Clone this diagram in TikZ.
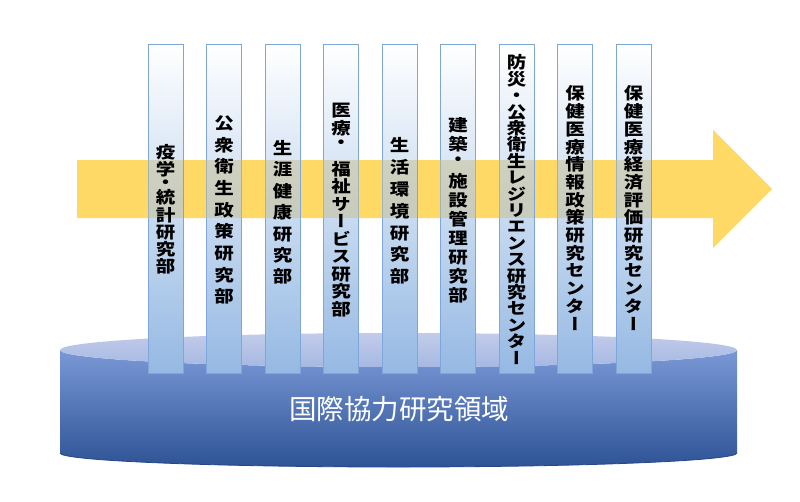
\documentclass[tikz,border=0pt]{standalone}
\usepackage{fontspec}
\newfontfamily\jplabel{Noto Sans CJK JP}[RawFeature=+vert, FakeStretch=1.18]
\newfontfamily\jpbase{Noto Sans CJK JP}
\definecolor{arrowfill}{RGB}{255,217,102}
\definecolor{tintfill}{RGB}{200,190,140}
\definecolor{pilltop}{RGB}{255,255,255}
\definecolor{pillmid}{RGB}{172,198,233}
\definecolor{pillbot}{RGB}{149,185,227}
\definecolor{pillline}{RGB}{126,166,218}
\definecolor{cylA}{RGB}{122,152,214}
\definecolor{cylB}{RGB}{68,114,196}
\definecolor{cylC}{RGB}{46,83,149}
\definecolor{capA}{RGB}{194,204,234}
\definecolor{capB}{RGB}{166,184,226}
\definecolor{cylline}{RGB}{38,70,135}
\tikzset{
  pillar/.style={draw=pillline, line width=0.9pt, minimum width=35pt, minimum height=329pt,
    inner sep=0pt, top color=pilltop, middle color=pillmid, bottom color=pillbot},
  lbl/.style={align=center, inner sep=0pt, text=black},
  tint/.style={fill=tintfill, fill opacity=0.5},
}
\newcommand{\lblfont}[1]{\jplabel\bfseries\fontsize{16.5}{#1}\selectfont}
\begin{document}
\begin{tikzpicture}[x=1pt,y=-1pt]
\useasboundingbox (0,0) rectangle (800,501);
\coordinate (atop) at (0,160);
\coordinate (abot) at (0,218);
% arrow
\fill[arrowfill] (77,160) -- (713,160) -- (713,130) -- (772,189) -- (713,248) -- (713,218) -- (77,218) -- cycle;
% cylinder
\shade[top color=cylA, middle color=cylB, bottom color=cylC]
  (60,350) -- (60,453) arc[start angle=180, end angle=0, x radius=338.5, y radius=14]
  -- (737,350) arc[start angle=0, end angle=180, x radius=338.5, y radius=17] -- cycle;
\draw[cylline, line width=0.8pt] (60,453) arc[start angle=180, end angle=0, x radius=338.5, y radius=14];
\shade[top color=capA, bottom color=capB] (398.5,350) ellipse[x radius=338.5, y radius=17];
% pillars
\node[pillar] (p1) at (165.5,208.5) {};
\node[pillar] (p2) at (224,208.5) {};
\node[pillar] (p3) at (282.5,208.5) {};
\node[pillar] (p4) at (341,208.5) {};
\node[pillar] (p5) at (399.5,208.5) {};
\node[pillar] (p6) at (458,208.5) {};
\node[pillar] (p7) at (516.5,208.5) {};
\node[pillar] (p8) at (575,208.5) {};
\node[pillar] (p9) at (633.5,208.5) {};
% arrow seen through the pillars
\foreach \p in {p1,p2,p3,p4,p5,p6,p7,p8,p9}
  \fill[tint] (\p.west |- atop) rectangle (\p.east |- abot);
% labels
\node[lbl, font=\lblfont{17.3}] (t1) at (165.5,209.2) {疫\\学\\[-3.9pt]・\\[-2.3pt]統\\計\\研\\究\\部};
\node[lbl, font=\lblfont{21.7}] (t2) at (224,210) {公\\衆\\衛\\生\\政\\策\\研\\究\\部};
\node[lbl, font=\lblfont{21.4}] (t3) at (282.5,212.5) {生\\涯\\健\\康\\研\\究\\部};
\node[lbl, font=\lblfont{17.5}] (t4) at (341,210) {医\\療\\[-3.2pt]・\\[9.2pt]福\\祉\\サ\\ー\\ビ\\ス\\研\\究\\部};
\node[lbl, font=\lblfont{21.95}] (t5) at (399.5,210.8) {生\\活\\環\\境\\研\\究\\部};
\node[lbl, font=\lblfont{19.1}] (t6) at (458,210.2) {建\\築\\[-4.1pt]・\\[2.6pt]施\\設\\管\\理\\研\\究\\部};
\node[lbl, font=\lblfont{16.4}] (t7) at (516.5,209.5) {防\\災\\・\\公\\衆\\衛\\生\\レ\\ジ\\リ\\エ\\ン\\ス\\研\\究\\セ\\ン\\タ\\ー};
\node[lbl, font=\lblfont{17.7}] (t8) at (575,208) {保\\健\\医\\療\\情\\報\\政\\策\\研\\究\\セ\\ン\\タ\\ー};
\node[lbl, font=\lblfont{17.7}] (t9) at (633.5,208) {保\\健\\医\\療\\経\\済\\評\\価\\研\\究\\セ\\ン\\タ\\ー};
% base label
\node[inner sep=0pt, text=white, font=\jpbase\fontsize{27.5}{30}\selectfont] (base) at (399,409) {国際協力研究領域};
\end{tikzpicture}
\end{document}
